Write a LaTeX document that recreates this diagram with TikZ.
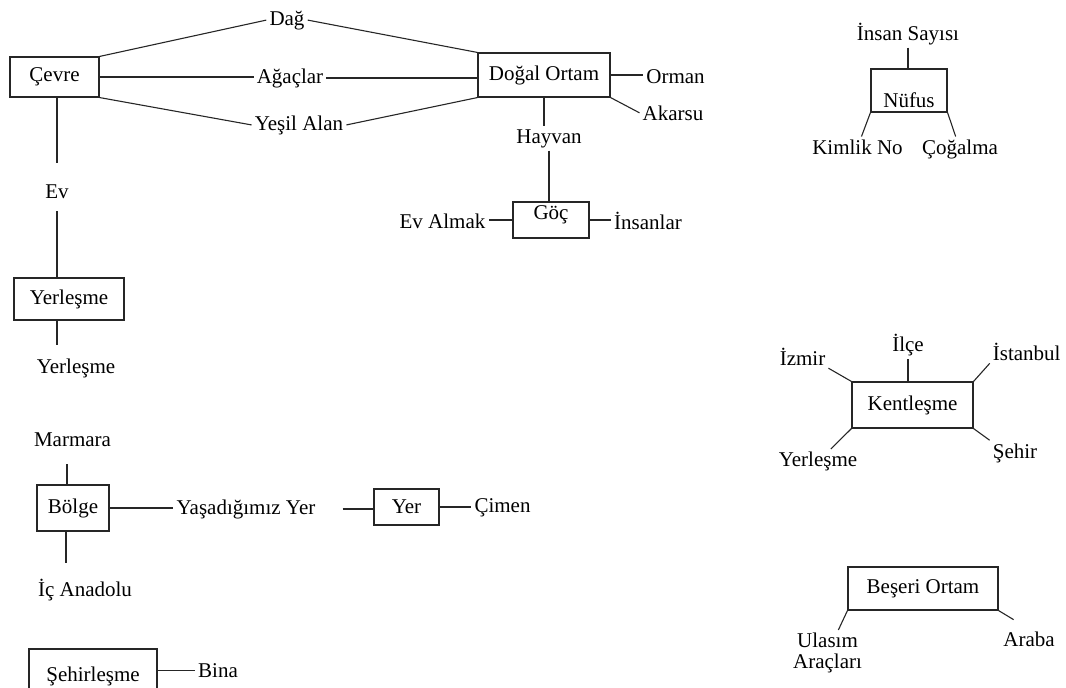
\documentclass[tikz,border=0pt]{standalone}
\usepackage{fontspec}
\setmainfont{Liberation Serif}
\usetikzlibrary{positioning}

\begin{document}
\begin{tikzpicture}[x=1pt,y=-1pt,
  box/.style={draw=black!85,line width=1.1pt,inner sep=0pt,
              font=\fontsize{21}{21}\selectfont},
  lbl/.style={inner sep=3pt,anchor=base,font=\fontsize{21}{21}\selectfont},
  ln/.style={draw=black!85,line width=1.1pt}
]
\useasboundingbox (0,0) rectangle (1066,688);

% ---- CEVRE / DOGAL ORTAM ----
\node[box,minimum width=89pt,minimum height=40pt]  (cevre) at (54.5,77) {Çevre};
\node[box,minimum width=132pt,minimum height=44pt] (dogal) at (544,75)  {Doğal Ortam};
\node[lbl] (dag)     at (287,25)  {Dağ};
\node[lbl] (agaclar) at (290,83)  {Ağaçlar};
\node[lbl] (yesil)   at (299,130) {Yeşil Alan};
\node[lbl] (orman)   at (675.5,83) {Orman};
\node[lbl] (akarsu)  at (673,120) {Akarsu};
\node[lbl] (hayvan)  at (549,143) {Hayvan};

\draw[ln] (cevre.north east) -- (dag.west);
\draw[ln] (dag.east) -- (dogal.north west);
\draw[ln] (cevre.east) -- (cevre.east -| agaclar.west);
\draw[ln] (agaclar.east) -- (agaclar.east -| dogal.west);
\draw[ln] (cevre.south east) -- (yesil.west);
\draw[ln] (yesil.east) -- (dogal.south west);
\draw[ln] (dogal.east) -- (dogal.east -| orman.west);
\draw[ln] (dogal.south east) -- (akarsu.west);
\draw[ln] (dogal.south) -- (dogal.south |- hayvan.north);

% ---- GOC ----
\node[box,minimum width=76pt,minimum height=36pt,text depth=15pt] (goc) at (551,220) {Göç};
\node[lbl] (evalmak)  at (442.5,228) {Ev Almak};
\node[lbl] (insanlar) at (648,229)   {İnsanlar};

\draw[ln] (hayvan.south) -- (hayvan.south |- goc.north);
\draw[ln] (goc.west) -- (goc.west -| evalmak.east);
\draw[ln] (goc.east) -- (goc.east -| insanlar.west);

% ---- EV / YERLESME ----
\node[lbl] (ev) at (57,198) {Ev};
\node[box,minimum width=110pt,minimum height=42pt] (yerl) at (69,299) {Yerleşme};
\node[lbl] (yerlb) at (76,373) {Yerleşme};

\draw[ln,shorten >=18pt] (ev.north |- cevre.south) -- (ev.north);
\draw[ln,shorten <=10pt] (ev.south) -- (ev.south |- yerl.north);
\draw[ln,shorten >=10pt] (ev |- yerl.south) -- (ev |- yerlb.north);

% ---- BOLGE / YER ----
\node[box,minimum width=72pt,minimum height=46pt] (bolge) at (73,508) {Bölge};
\node[box,minimum width=65pt,minimum height=36pt] (yer)   at (406.5,507) {Yer};
\node[lbl] (marmara)   at (72.5,446.7) {Marmara};
\node[lbl] (icanadolu) at (85,596)     {İç Anadolu};
\node[lbl] (yasad)     at (246,514)    {Yaşadığımız Yer};
\node[lbl] (cimen)     at (502.5,512)  {Çimen};

\draw[ln,shorten >=14pt] ([xshift=-6]bolge.north) -- ([xshift=-6]bolge.north |- marmara.south);
\draw[ln,shorten >=12pt] ([xshift=-7]bolge.south) -- ([xshift=-7]bolge.south |- icanadolu.north);
\draw[ln] (bolge.east) -- (bolge.east -| yasad.west);
\draw[ln,shorten <=24pt] (yasad.east) -- (yasad.east -| yer.west);
\draw[ln] (yer.east) -- (yer.east -| cimen.west);

% ---- SEHIRLESME ----
\node[box,minimum width=128pt,minimum height=54pt] (sehirl) at (93,676) {Şehirleşme};
\node[lbl] (bina) at (218,677) {Bina};
\draw[ln] (sehirl.east |- bina.west) -- (bina.west);

% ---- NUFUS ----
\node[box,minimum width=76pt,minimum height=43pt,text height=33pt,text depth=0pt] (nufus) at (909,90.5) {Nüfus};
\node[lbl] (insan)   at (908,40)    {İnsan Sayısı};
\node[lbl] (kimlik)  at (857.5,154.3) {Kimlik No};
\node[lbl] (cogalma) at (960,154.3) {Çoğalma};

\draw[ln] (insan.south) -- (insan.south |- nufus.north);
\draw[ln] (nufus.south west) -- (kimlik);
\draw[ln] (nufus.south east) -- (cogalma);

% ---- KENTLESME ----
\node[box,minimum width=121pt,minimum height=46pt] (kent) at (912.5,405) {Kentleşme};
\node[lbl] (ilce)     at (908,351.7)   {İlçe};
\node[lbl] (izmir)    at (802.5,365)   {İzmir};
\node[lbl] (istanbul) at (1026.7,360)  {İstanbul};
\node[lbl] (yerk)     at (818,466.7)   {Yerleşme};
\node[lbl] (sehir)    at (1015,458)    {Şehir};

\draw[ln] (ilce.south) -- (ilce.south |- kent.north);
\draw[ln] (kent.north west) -- (izmir.south east);
\draw[ln] (kent.north east) -- (istanbul.south west);
\draw[ln] (kent.south west) -- (yerk);
\draw[ln] (kent.south east) -- (sehir.north west);

% ---- BESERI ORTAM ----
\node[box,minimum width=150pt,minimum height=43pt] (beseri) at (923,588.5) {Beşeri Ortam};
\node[lbl,anchor=north,align=center] (ulasim) at (827.5,630) {Ulasım\\Araçları};
\node[lbl] (araba) at (1029,646.7) {Araba};

\draw[ln] (beseri.south west) -- (ulasim);
\draw[ln,shorten >=18pt] (beseri.south east) -- (araba.north);

\end{tikzpicture}
\end{document}
